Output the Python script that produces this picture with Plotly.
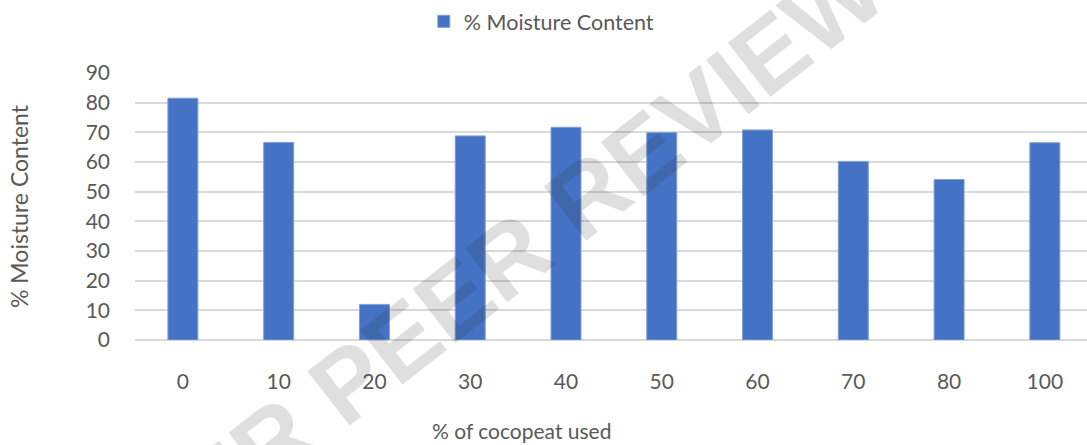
import plotly.graph_objects as go

# Moisture content (%) for each cocopeat proportion
cocopeat_pct = ["0", "10", "20", "30", "40", "50", "60", "70", "80", "100"]
moisture_pct = [81.5, 66.6, 12.0, 68.8, 71.7, 69.9, 70.8, 60.2, 54.1, 66.5]

y_ticks = [0, 10, 20, 30, 40, 50, 60, 70, 80, 90]

series_name = "% Moisture Content"
x_title = "% of cocopeat used"
y_title = "% Moisture Content"
watermark = "UNDER PEER REVIEW"

BAR = "#4472C4"
TEXT = "#595959"
GRID = "#D9D9D9"
FONT = "Lato"

fig = go.Figure()
fig.add_trace(go.Bar(
    x=cocopeat_pct,
    y=moisture_pct,
    name=series_name,
    marker=dict(color=BAR, line=dict(color="#7F9FD8", width=1)),
    showlegend=True,
))

fig.update_layout(
    width=1087,
    height=445,
    margin=dict(l=135, r=0, t=73, b=105, pad=0),
    paper_bgcolor="white",
    plot_bgcolor="white",
    bargap=0.687,
    font=dict(family=FONT, color=TEXT, size=20),
    legend=dict(
        orientation="h",
        xref="container", yref="container",
        x=0.498, y=0.952, xanchor="center", yanchor="middle",
        font=dict(size=21.5, color=TEXT),
        itemwidth=30,
    ),
    xaxis=dict(
        type="category",
        range=[-0.5, 9.44],
        showgrid=False,
        showline=False,
        ticks="",
        ticklabelstandoff=27,
        tickfont=dict(size=21, color=TEXT),
    ),
    yaxis=dict(
        range=[0, 90],
        tickvals=y_ticks,
        showgrid=True,
        gridcolor=GRID,
        gridwidth=1.5,
        zeroline=True,
        zerolinecolor=GRID,
        zerolinewidth=1.5,
        showline=False,
        ticks="",
        ticklabelstandoff=24,
        tickfont=dict(size=21, color=TEXT),
        title=dict(text=y_title, font=dict(size=23, color=TEXT), standoff=50),
    ),
)

# x-axis title, centred under the chart body
fig.add_annotation(
    text=x_title,
    xref="paper", yref="paper",
    x=(521 - 135) / 952, y=-0.34,
    xanchor="center", yanchor="middle",
    showarrow=False,
    font=dict(family=FONT, size=21, color=TEXT),
)

# Diagonal review watermark across the chart
fig.add_annotation(
    text=watermark,
    xref="paper", yref="paper",
    x=(446 - 135) / 952, y=(339.5 - 306) / 266.5,
    xanchor="center", yanchor="middle",
    showarrow=False,
    textangle=-38,
    font=dict(family="Liberation Sans", size=100, weight="bold",
              color="rgba(40,40,40,0.15)"),
)

fig.write_html("out.html")
